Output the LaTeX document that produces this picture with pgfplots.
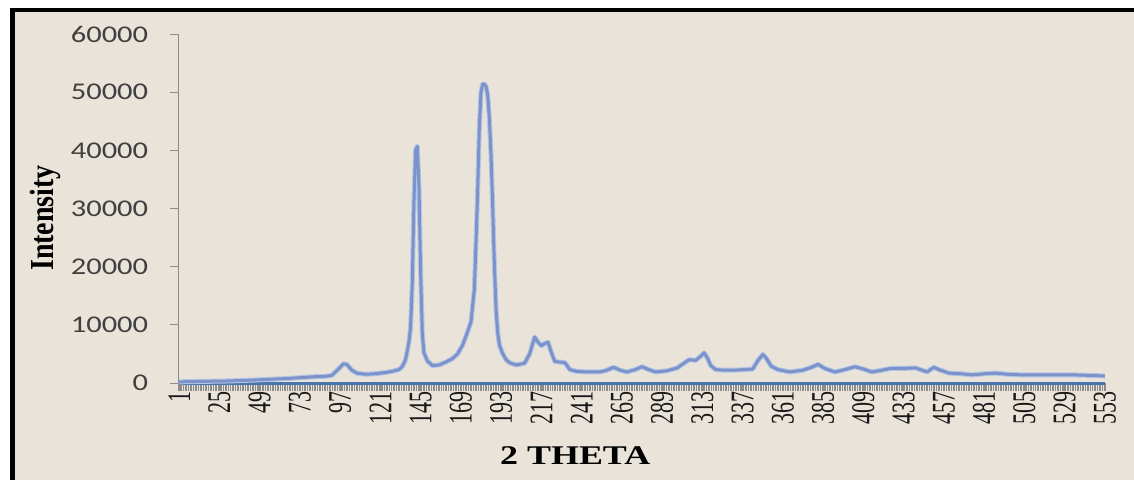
\documentclass[border=0pt]{standalone}
\usepackage{fontspec}
\setmainfont{Liberation Serif}
\newfontfamily\calib{Carlito}
\usepackage{pgfplots}
\pgfplotsset{compat=1.18}
\definecolor{bg}{RGB}{233,227,217}
\definecolor{mainline}{RGB}{124,147,201}
\definecolor{halo}{RGB}{180,198,232}
\definecolor{zeroline}{RGB}{74,116,172}
\definecolor{tickgrey}{RGB}{140,140,140}
\definecolor{labgrey}{RGB}{64,64,64}
\pgfplotstableread{
i v
1 200
10 250
20 300
30 350
40 450
49 550
56 650
64 750
72 900
80 1050
88 1150
92 1300
96 2400
99 3300
101 3200
104 2200
107 1700
112 1500
118 1600
124 1800
128 2000
132 2300
134 2800
136 4000
138 7000
139 9500
140 17000
141 31000
142 40000
143 40700
144 34000
145 19000
146 8500
147 5200
149 3800
152 3000
156 3100
160 3600
164 4200
167 5000
170 6500
173 8800
175 10500
177 16000
178 24000
179 33000
180 44000
181 50000
182 51400
183 51400
184 51000
185 49500
186 45500
187 39000
188 30000
189 20000
190 12500
191 8500
192 6500
194 5000
196 4000
198 3500
202 3100
207 3400
210 5000
213 7900
215 7000
217 6400
219 6800
221 7000
223 5200
225 3700
228 3600
231 3500
234 2300
238 2000
244 1900
252 1900
256 2200
260 2700
264 2200
268 1900
273 2300
277 2800
281 2300
285 1900
292 2100
298 2600
302 3400
305 4000
309 3900
312 4600
314 5200
316 4300
318 3000
321 2300
326 2200
331 2200
338 2300
343 2400
346 3800
349 4900
351 4300
354 2900
358 2300
365 1900
373 2200
378 2700
382 3200
386 2500
392 1900
398 2300
404 2800
409 2400
414 1900
420 2200
425 2500
432 2500
440 2600
444 2200
447 1900
451 2700
454 2300
460 1700
467 1600
474 1400
482 1600
488 1700
495 1500
503 1400
515 1400
524 1400
534 1400
545 1300
553 1200
}\xrd
\pgfplotstableread{
i v
1 0
553 0
}\zeroser
\begin{document}
\begin{tikzpicture}[x=1pt,y=1pt]
\fill[white] (0,0) rectangle (1134,480);
\fill[bg] (10,0) rectangle (1134,472);
\fill[black] (10,468) rectangle (1134,472);
\fill[black] (10,0) rectangle (15,472);
\begin{axis}[
  at={(178.3pt,97pt)}, anchor=south west,
  scale only axis, width=927.4pt, height=349pt,
  xmin=0.5, xmax=553.5, ymin=0, ymax=60000,
  clip=false,
  axis x line*=bottom, axis y line*=left,
  axis line style={tickgrey, line width=1pt, -},
  xtick={1,25,...,553},
  minor xtick={0.5,1.5,...,553.5},
  ytick={0,10000,...,60000},
  tick align=outside,
  major tick length=8pt, minor tick length=8pt,
  every tick/.append style={tickgrey, line width=0.9pt},
  every minor tick/.append style={tickgrey, line width=0.9pt},
  scaled y ticks=false,
  /pgf/number format/assume math mode=true,
  yticklabel={\scalebox{1.27}[1]{\pgfmathprintnumber[fixed,precision=0,1000 sep={}]{\tick}}},
  yticklabel style={font=\calib\fontsize{24}{24}\selectfont, color=labgrey, anchor=east, inner sep=0pt, xshift=-22pt},
  xticklabel={\scalebox{1}[1.5]{\pgfmathprintnumber[fixed,precision=0,1000 sep={}]{\tick}}},
  xticklabel style={rotate=90, anchor=east, inner sep=0pt, font=\fontsize{22}{22}\selectfont, color=black!90},
  xlabel={\scalebox{1.33}[1]{\bfseries 2 THETA}},
  ylabel={\scalebox{1}[1.2]{\bfseries Intensity}},
  xlabel style={font=\fontsize{27}{27}\selectfont, at={(axis description cs:0.428,-0.209)}, anchor=center},
  ylabel style={font=\fontsize{28}{28}\selectfont, at={(axis description cs:-0.1434,0.473)}, anchor=center, rotate=0},
]
\addplot[zeroline, line width=3pt] table[x=i,y=v] {\zeroser};
\addplot[halo, line width=5pt, line join=round] table[x=i,y=v] {\xrd};
\addplot[mainline, line width=3pt, line join=round] table[x=i,y=v] {\xrd};
\end{axis}
\end{tikzpicture}
\end{document}
